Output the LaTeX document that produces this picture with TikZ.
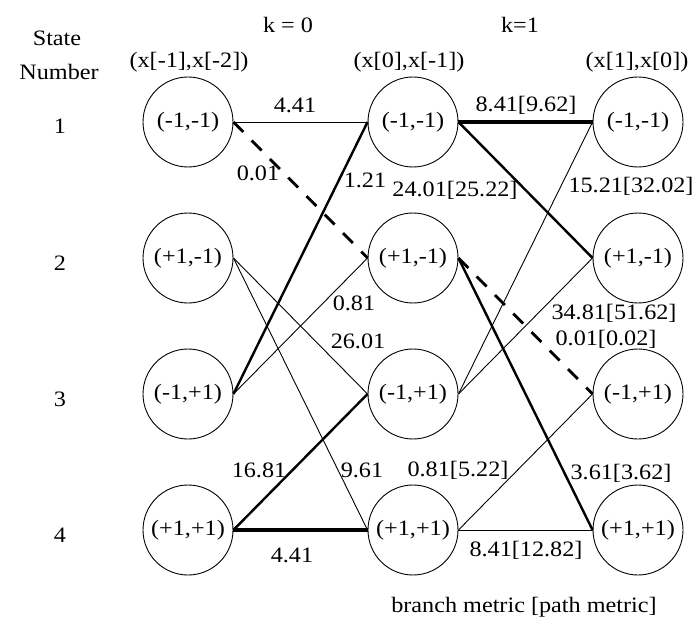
\documentclass[tikz,border=0pt]{standalone}
\usepackage{fontspec}
\setmainfont{Liberation Serif}[FakeStretch=1.1]
\begin{document}
\begin{tikzpicture}[x=1pt,y=-1pt,font=\fontsize{22}{26}\selectfont,
  st/.style={circle,draw,line width=0.9pt,minimum size=90pt,inner sep=0pt},
  lbl/.style={inner sep=0pt},
  brthin/.style={line width=0.9pt},
  brthick/.style={line width=2.4pt},
  brvthick/.style={line width=4.4pt},
  brdash/.style={line width=2.8pt,dash pattern=on 14pt off 12pt}]
\useasboundingbox (0,0) rectangle (695,620);
% headers
\node[lbl] (hstate) at (57,38) {State};
\node[lbl] (hnum) at (59,72) {Number};
\node[lbl] (hk0) at (288,25) {k = 0};
\node[lbl] (hk1) at (520,25) {k=1};
\node[lbl] (hc1) at (189,62) {(x[-1],x[-2])};
\node[lbl] (hc2) at (409,62) {(x[0],x[-1])};
\node[lbl] (hc3) at (637,62) {(x[1],x[0])};
% state numbers
\node[lbl] (n1) at (60,126) {1};
\node[lbl] (n2) at (60,263) {2};
\node[lbl] (n3) at (60,399) {3};
\node[lbl] (n4) at (60,535) {4};
% states
\foreach \c/\x in {a/188,b/413,c/638}{
  \node[st] (\c1) at (\x,122) {(-1,-1)};
  \node[st] (\c2) at (\x,258) {(+1,-1)};
  \node[st] (\c3) at (\x,394) {(-1,+1)};
  \node[st] (\c4) at (\x,530) {(+1,+1)};
}
% k = 0 branches
\draw[brthin] (a1.east) -- (b1.west);
\draw[brdash] (a1.east) -- (b2.west);
\draw[brthin] (a2.east) -- (b3.west);
\draw[brthin] (a2.east) -- (b4.west);
\draw[brthick] (a3.east) -- (b1.west);
\draw[brthin] (a3.east) -- (b2.west);
\draw[brthick] (a4.east) -- (b3.west);
\draw[brvthick] (a4.east) -- (b4.west);
% k = 1 branches
\draw[brvthick] (b1.east) -- (c1.west);
\draw[brthick] (b1.east) -- (c2.west);
\draw[brdash] (b2.east) -- (c3.west);
\draw[brthick] (b2.east) -- (c4.west);
\draw[brthin] (b3.east) -- (c1.west);
\draw[brthin] (b3.east) -- (c2.west);
\draw[brthin] (b4.east) -- (c3.west);
\draw[brthin] (b4.east) -- (c4.west);
% k = 0 labels
\node[lbl] (l11) at (295,105) {4.41};
\node[lbl] (l12) at (258,173) {0.01};
\node[lbl] (l31) at (365,180) {1.21};
\node[lbl] (l32) at (354,303) {0.81};
\node[lbl] (l23) at (358,341) {26.01};
\node[lbl] (l43) at (259,470) {16.81};
\node[lbl] (l24) at (362,470) {9.61};
\node[lbl] (l44) at (292,555) {4.41};
% k = 1 labels
\node[lbl] (m11) at (526,105) {8.41[9.62]};
\node[lbl] (m12) at (455,190) {24.01[25.22]};
\node[lbl] (m31) at (631,186) {15.21[32.02]};
\node[lbl] (m32) at (614,313) {34.81[51.62]};
\node[lbl] (m23) at (606,339) {0.01[0.02]};
\node[lbl] (m43) at (458,470) {0.81[5.22]};
\node[lbl] (m24) at (621,473) {3.61[3.62]};
\node[lbl] (m44) at (526,550) {8.41[12.82]};
\node[lbl] (legend) at (524,607) {branch metric [path metric]};
\end{tikzpicture}
\end{document}
